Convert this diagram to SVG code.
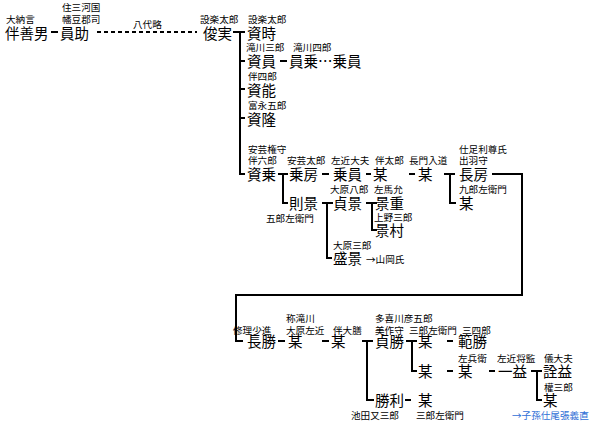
<svg xmlns="http://www.w3.org/2000/svg" width="596" height="426" viewBox="0 0 596 426">
<style>
text{font-family:"Noto Sans CJK JP","Noto Sans CJK SC",sans-serif;fill:#000}
.b{font-size:14.5px}
.s{font-size:9.6px}
.ln{stroke:#000;stroke-width:2;fill:none}
.dl{stroke:#000;stroke-width:2;fill:none;stroke-dasharray:4 3}
.blue{fill:#2f6fd6}
</style>
<rect width="596" height="426" fill="#fff"/>
<g id="connectors">
<path class="ln" d="M51 32H58"/>
<path class="dl" d="M97 32H197"/>
<text class="s" x="133" y="28">八代略</text>
<path class="ln" d="M233 32H245M240 32V174H245M240 61H245M240 89H245M240 118H245"/>
<path class="ln" d="M280 61H287"/>
<path class="ln" d="M278 174H288M283 174V203H288"/>
<path class="ln" d="M322 174H329M366 174H371M409 174H415"/>
<path class="ln" d="M444 174H455M450 174V203H456"/>
<path class="ln" d="M492 174H522V295H236V341H243"/>
<path class="ln" d="M322 203H333M327 203V258H332"/>
<path class="ln" d="M366 203H377M372 203V230H377"/>
<path class="ln" d="M278 341H285M322 341H329"/>
<path class="ln" d="M362 341H373M367 341V400H374"/>
<path class="ln" d="M405 400H411"/>
<path class="ln" d="M406 341H417M412 341V371H417"/>
<path class="ln" d="M447 341H453M447 371H453M489 371H495"/>
<path class="ln" d="M531 371H542M537 371V400H542"/>
</g>
<g id="n-bansenin"><text class="s" x="6" y="23">大納言</text><text class="b" x="5" y="39">伴善男</text></g>
<g id="n-kazusuke"><text class="s" x="62" y="11">住三河国</text><text class="s" x="62" y="23">幡豆郡司</text><text class="b" x="60" y="39">員助</text></g>
<g id="n-toshizane"><text class="s" x="200" y="23">設楽太郎</text><text class="b" x="203" y="39">俊実</text></g>
<g id="n-suketoki"><text class="s" x="248" y="23">設楽太郎</text><text class="b" x="247" y="39">資時</text></g>
<g id="n-sukekazu"><text class="s" x="246" y="51">滝川三郎</text><text class="b" x="247" y="67">資員</text></g>
<g id="n-kazunori"><text class="s" x="293" y="51">滝川四郎</text><text class="b" x="289" y="67">員乗…乗員</text></g>
<g id="n-sukeyoshi"><text class="s" x="248" y="80">伴四郎</text><text class="b" x="247" y="96">資能</text></g>
<g id="n-suketaka"><text class="s" x="248" y="109">富永五郎</text><text class="b" x="247" y="125">資隆</text></g>
<g id="n-sukenori"><text class="s" x="248" y="153">安芸権守</text><text class="s" x="248" y="164">伴六郎</text><text class="b" x="247" y="180">資乗</text></g>
<g id="n-norifusa"><text class="s" x="287" y="164">安芸太郎</text><text class="b" x="289" y="180">乗房</text></g>
<g id="n-norikazu"><text class="s" x="331" y="164">左近大夫</text><text class="b" x="333" y="180">乗員</text></g>
<g id="n-bou1"><text class="s" x="375" y="164">伴太郎</text><text class="b" x="373" y="180">某</text></g>
<g id="n-bou2"><text class="s" x="409" y="164">長門入道</text><text class="b" x="418" y="180">某</text></g>
<g id="n-nagafusa"><text class="s" x="459" y="153">仕足利尊氏</text><text class="s" x="459" y="164">出羽守</text><text class="b" x="459" y="180">長房</text></g>
<g id="n-bou3"><text class="s" x="459" y="193">九郎左衛門</text><text class="b" x="459" y="209">某</text></g>
<g id="n-norikage"><text class="b" x="289" y="209">則景</text><text class="s" x="266" y="222">五郎左衛門</text></g>
<g id="n-sadakage"><text class="s" x="330" y="193">大原八郎</text><text class="b" x="333" y="209">貞景</text></g>
<g id="n-kageshige"><text class="s" x="374" y="193">左馬允</text><text class="b" x="375" y="209">景重</text></g>
<g id="n-kagemura"><text class="s" x="374" y="221">上野三郎</text><text class="b" x="375" y="236">景村</text></g>
<g id="n-morikage"><text class="s" x="333" y="249">大原三郎</text><text class="b" x="333" y="264">盛景</text><text class="s" x="366" y="263">→山岡氏</text></g>
<g id="n-nagakatsu"><text class="s" x="233" y="334">修理少進</text><text class="b" x="247" y="347">長勝</text></g>
<g id="n-bou4"><text class="s" x="286" y="322">称滝川</text><text class="s" x="286" y="334">大原左近</text><text class="b" x="288" y="347">某</text></g>
<g id="n-bou5"><text class="s" x="333" y="334">伴大膳</text><text class="b" x="331" y="347">某</text></g>
<g id="n-sadakatsu"><text class="s" x="375" y="322">多喜川彦五郎</text><text class="s" x="375" y="334">美作守</text><text class="b" x="375" y="347">貞勝</text></g>
<g id="n-bou6"><text class="s" x="409" y="334">三郎左衛門</text><text class="b" x="418" y="347">某</text></g>
<g id="n-norikatsu"><text class="s" x="462" y="334">三四郎</text><text class="b" x="458" y="347">範勝</text></g>
<g id="n-bou7"><text class="b" x="418" y="377">某</text></g>
<g id="n-bou8"><text class="s" x="458" y="362">左兵衛</text><text class="b" x="458" y="377">某</text></g>
<g id="n-kazumasu"><text class="s" x="497" y="362">左近将監</text><text class="b" x="498" y="377">一益</text></g>
<g id="n-akimasu"><text class="s" x="544" y="362">儀大夫</text><text class="b" x="543" y="377">詮益</text></g>
<g id="n-bou9"><text class="s" x="544" y="391">權三郎</text><text class="b" x="543" y="406">某</text><text class="s blue" x="512" y="419">→子孫仕尾張義直</text></g>
<g id="n-katsutoshi"><text class="b" x="375" y="406">勝利</text><text class="s" x="351" y="419">池田又三郎</text></g>
<g id="n-bou10"><text class="b" x="418" y="406">某</text><text class="s" x="416" y="419">三郎左衛門</text></g>
</svg>
